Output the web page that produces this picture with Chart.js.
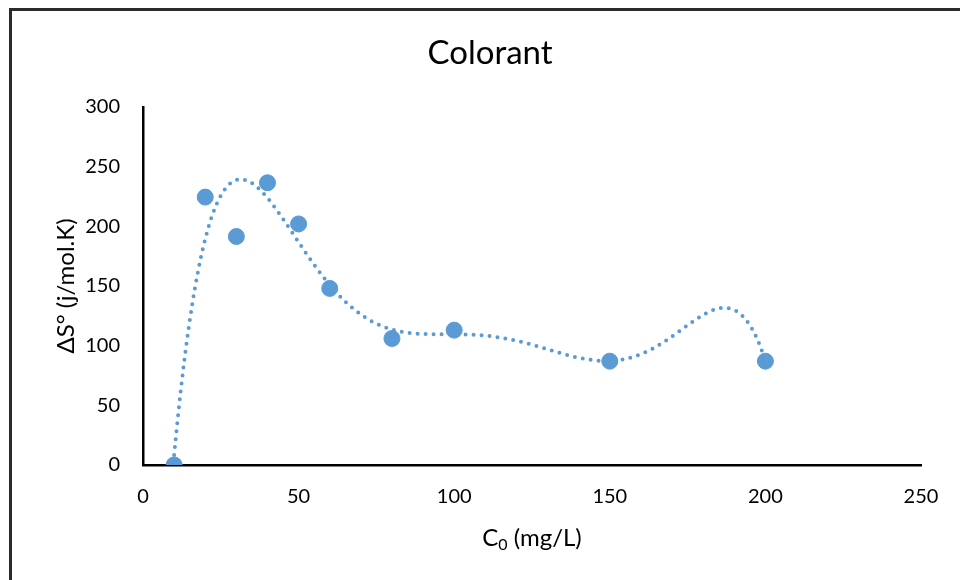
<!DOCTYPE html>
<html>
<head>
<meta charset="utf-8">
<script src="https://cdn.jsdelivr.net/npm/chart.js@4.4.1/dist/chart.umd.min.js"></script>
<style>
  html, body { margin: 0; padding: 0; background: #fff; }
  #chart { display: block; }
</style>
</head>
<body>
<canvas id="chart" width="960" height="580"></canvas>
<script>
// C0 (mg/L) and entropy change ΔS° (j/mol.K)
var concentrations = [10, 20, 30, 40, 50, 60, 80, 100, 150, 200];
var entropyValues = [0, 224.5, 191.5, 236.5, 202, 148, 106, 113, 87, 87];
var xTicks = [0, 50, 100, 150, 200, 250];
var yTicks = [0, 50, 100, 150, 200, 250, 300];
var trendOrder = 6;

var blue = '#5b9bd5';

// least squares polynomial trendline (x centred/scaled to keep it stable)
function polyFit(xs, ys, order) {
    var mid = (Math.min.apply(null, xs) + Math.max.apply(null, xs)) / 2;
    var half = (Math.max.apply(null, xs) - Math.min.apply(null, xs)) / 2;
    var n = order + 1;
    var A = [], b = [];
    for (var i = 0; i < n; i++) { A.push(new Array(n).fill(0)); b.push(0); }
    xs.forEach(function (x, k) {
        var t = (x - mid) / half;
        for (var i = 0; i < n; i++) {
            for (var j = 0; j < n; j++) A[i][j] += Math.pow(t, i + j);
            b[i] += ys[k] * Math.pow(t, i);
        }
    });
    for (var c = 0; c < n; c++) {
        var p = c;
        for (var r = c + 1; r < n; r++) if (Math.abs(A[r][c]) > Math.abs(A[p][c])) p = r;
        var tmp = A[c]; A[c] = A[p]; A[p] = tmp;
        var tb = b[c]; b[c] = b[p]; b[p] = tb;
        for (var r2 = c + 1; r2 < n; r2++) {
            var f = A[r2][c] / A[c][c];
            for (var j2 = c; j2 < n; j2++) A[r2][j2] -= f * A[c][j2];
            b[r2] -= f * b[c];
        }
    }
    var coef = new Array(n).fill(0);
    for (var r3 = n - 1; r3 >= 0; r3--) {
        var s = b[r3];
        for (var j3 = r3 + 1; j3 < n; j3++) s -= A[r3][j3] * coef[j3];
        coef[r3] = s / A[r3][r3];
    }
    return function (x) {
        var t = (x - mid) / half, y = 0;
        for (var i = n - 1; i >= 0; i--) y = y * t + coef[i];
        return y;
    };
}

var trend = polyFit(concentrations, entropyValues, trendOrder);
var trendPoints = [];
for (var x = concentrations[0]; x <= concentrations[concentrations.length - 1]; x += 1) {
    trendPoints.push({ x: x, y: trend(x) });
}

// white page with the dark frame round the chart
var framePlugin = {
    id: 'frame',
    beforeDraw: function (chart) {
        var ctx = chart.ctx;
        ctx.save();
        ctx.fillStyle = '#fff';
        ctx.fillRect(0, 0, chart.width, chart.height);
        ctx.strokeStyle = '#2b2b2b';
        ctx.lineWidth = 3;
        ctx.strokeRect(10.5, 9.5, 1200, 1200);
        ctx.restore();
    }
};

// chart title and x axis title (with a subscript zero)
var textPlugin = {
    id: 'texts',
    afterDraw: function (chart) {
        var ctx = chart.ctx;
        var area = chart.chartArea;
        ctx.save();
        ctx.fillStyle = '#000';
        ctx.textBaseline = 'middle';

        ctx.textAlign = 'center';
        ctx.font = '33px Lato';
        ctx.fillText('Colorant', 490, 53);

        var cx = (area.left + area.right) / 2;
        var y = 538;
        ctx.font = '24px Lato';
        var wC = ctx.measureText('C').width;
        var wRest = ctx.measureText(' (mg/L)').width;
        ctx.font = '16px Lato';
        var wSub = ctx.measureText('0').width;
        var left = cx - (wC + wSub + wRest) / 2;
        ctx.textAlign = 'left';
        ctx.font = '24px Lato';
        ctx.fillText('C', left, y);
        ctx.font = '16px Lato';
        ctx.fillText('0', left + wC, y + 7);
        ctx.font = '24px Lato';
        ctx.fillText(' (mg/L)', left + wC + wSub, y);
        ctx.restore();
    }
};

var ctx = document.getElementById('chart').getContext('2d');
var myChart = new Chart(ctx, {
    type: 'scatter',
    data: {
        datasets: [{
            label: 'ΔS°',
            data: concentrations.map(function (c, i) { return { x: c, y: entropyValues[i] }; }),
            backgroundColor: blue,
            borderColor: blue,
            pointRadius: 8,
            pointHoverRadius: 8,
            order: 1
        }, {
            label: 'Poly. (ΔS°)',
            data: trendPoints,
            showLine: true,
            borderColor: blue,
            borderWidth: 4,
            borderDash: [0, 8],
            borderCapStyle: 'round',
            pointRadius: 0,
            fill: false,
            order: 2
        }]
    },
    options: {
        responsive: false,
        animation: false,
        layout: { padding: { left: 0, right: 39, top: 107, bottom: 0 } },
        plugins: {
            legend: { display: false },
            tooltip: { enabled: false },
            title: { display: false }
        },
        scales: {
            x: {
                type: 'linear',
                min: 0,
                max: 250,
                afterBuildTicks: function (axis) { axis.ticks = xTicks.map(function (v) { return { value: v }; }); },
                afterFit: function (axis) { axis.height = 115; },
                grid: { color: 'rgba(0,0,0,0)', drawTicks: false },
                border: { display: true, color: '#000', width: 2.5 },
                ticks: { color: '#000', padding: 20, font: { family: 'Lato', size: 20 } }
            },
            y: {
                type: 'linear',
                min: 0,
                max: 300,
                afterBuildTicks: function (axis) { axis.ticks = yTicks.map(function (v) { return { value: v }; }); },
                afterFit: function (axis) { axis.width = 143; },
                grid: { color: 'rgba(0,0,0,0)', drawTicks: false },
                border: { display: true, color: '#000', width: 2.5 },
                ticks: { color: '#000', padding: 23, font: { family: 'Lato', size: 20 } },
                title: {
                    display: true,
                    text: 'ΔS° (j/mol.K)',
                    color: '#000',
                    font: { family: 'Lato', size: 24, lineHeight: 1.2 },
                    padding: { top: 52, bottom: 0 }
                }
            }
        }
    },
    plugins: [framePlugin, textPlugin]
});
</script>
</body>
</html>
